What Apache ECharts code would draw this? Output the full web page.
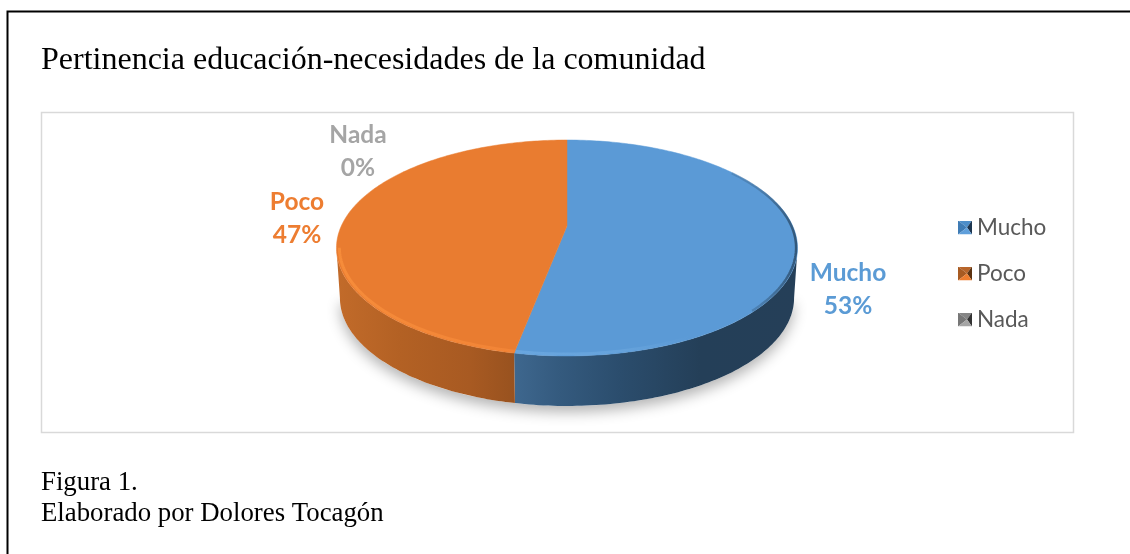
<!DOCTYPE html>
<html><head><meta charset="utf-8">
<style>html,body{margin:0;padding:0;background:#fff}#c{width:1130px;height:554px}</style>
<script src="https://cdn.jsdelivr.net/npm/echarts@6/dist/echarts.min.js"></script>
</head><body><div id="c"></div>
<script>
const categories = ['Mucho', 'Poco', 'Nada'];
const values = [53, 47, 0];
const colors = ['#5b9bd5', '#ed7d31', '#a5a5a5'];
const topFills = ['#5b9ad6', '#e97c30', '#a5a5a5'];
const chartTitle = 'Pertinencia educación-necesidades de la comunidad';
const captionLines = ['Figura 1.', 'Elaborado por Dolores Tocagón'];

// disc layout
const cx = 567, cyCentre = 226, halfW = 225.7, halfH = 103.5, persp = 0.2037, depth = 50, baseScale = 0.985;
const labelCentres = [[848, 290], [297, 219], [358, 152]];
const total = values.reduce((a, b) => a + b, 0);
const rad = d => d * Math.PI / 180;
function pt(deg, r = 1) {
  const X = Math.sin(rad(deg)) * r, Y = -Math.cos(rad(deg)) * r, w = 1 - persp * Y;
  return [cx + halfW * X / w, cyCentre + halfH * Y / w];
}
const sideStart = 101.8, sideEnd = 258.2;
function arc(a, b, r) {
  const out = [], n = Math.max(2, Math.ceil(Math.abs(b - a)));
  for (let i = 0; i <= n; i++) out.push(pt(a + (b - a) * i / n, r));
  return out;
}
const base = p => [cx + (p[0] - cx) * baseScale, p[1] + depth];
const gx = stops => ({ type: 'linear', x: 336, y: 0, x2: 797, y2: 0, global: true,
  colorStops: stops.map(s => ({ offset: (s[0] - 336) / 461, color: s[1] })) });
const wallFills = [
  gx([[515, '#3e678e'], [560, '#345a7e'], [620, '#2b4d6d'], [700, '#243f58'], [797, '#253f58']]),
  gx([[336, '#c26b2a'], [400, '#b36124'], [470, '#a85a22'], [515, '#98521f']]),
  '#7c7c7c'
];
const rimStrokes = [
  gx([[515, '#69a6df'], [620, '#66a3dc'], [690, '#5b9ad6'], [797, '#5b9ad6']]),
  gx([[336, '#f68c3a'], [515, '#f28436']]),
  '#a5a5a5'
];
const edgeShade = gx([[690, 'rgba(36,64,90,0)'], [760, 'rgba(36,64,90,0.3)'], [797, 'rgba(36,64,90,0.75)']]);

function startOf(i) { return values.slice(0, i).reduce((a, b) => a + b, 0) / total * 360; }

function renderSlice(params) {
  const i = params.seriesIndex - 1, a = startOf(i), b = startOf(i + 1);
  const kids = [];
  const from = Math.max(a, sideStart), to = Math.min(b, sideEnd);
  if (to > from) {
    const top = arc(from, to, 1);
    kids.push({ type: 'polygon', shape: { points: top.concat(top.map(base).reverse()) },
      style: { fill: wallFills[i], stroke: null } });
  }
  if (b > a) {
    kids.push({ type: 'polygon', shape: { points: [[cx, cyCentre]].concat(arc(a, b, 1)) },
      style: { fill: topFills[i], stroke: topFills[i], lineWidth: 0.5 } });
    if (to > from) {
      kids.push({ type: 'polyline', shape: { points: arc(from, to, 0.988) },
        style: { fill: null, stroke: rimStrokes[i], lineWidth: 3 } });
    }
    if (i === 0) {
      kids.push({ type: 'polyline', shape: { points: arc(55, 135, 0.994) },
        style: { fill: null, stroke: edgeShade, lineWidth: 2.5 } });
    }
  }
  kids.push({ type: 'text', z2: 10, style: {
    text: categories[i] + '\n' + Math.round(values[i] / total * 100) + '%',
    x: labelCentres[i][0], y: labelCentres[i][1], align: 'center', verticalAlign: 'middle',
    font: 'bold 24.5px Lato', lineHeight: 33, fill: colors[i] } });
  return { type: 'group', children: kids };
}
function renderShadow() {
  const top = arc(sideStart, sideEnd, 1).map(base);
  return { type: 'polygon', shape: { points: top },
    style: { fill: '#ffffff', shadowBlur: 14, shadowColor: 'rgba(0,0,0,0.3)', shadowOffsetY: 6 } };
}
function pyramid(c) {
  const [t, l, r, b] = c;
  const svg = `<svg xmlns="http://www.w3.org/2000/svg" width="14" height="14" viewBox="0 0 14 14">` +
    `<polygon points="0,0 14,0 9,7" fill="${t}"/><polygon points="0,0 0,14 9,7" fill="${l}"/>` +
    `<polygon points="14,0 14,14 9,7" fill="${r}"/><polygon points="0,14 14,14 9,7" fill="${b}"/></svg>`;
  return 'image://data:image/svg+xml;charset=utf-8,' + encodeURIComponent(svg);
}
const legendBevels = [
  ['#4d8ec9', '#3f7cb5', '#1d3650', '#5f9fdb'],
  ['#b8652a', '#a85b22', '#5c3210', '#ee7e30'],
  ['#858585', '#777777', '#333333', '#a5a5a5']
];

const chart = echarts.init(document.getElementById('c'), null, { renderer: 'canvas' });
chart.setOption({
  animation: false,
  backgroundColor: '#ffffff',
  title: [
    { text: chartTitle, left: 41, top: 45, padding: 0,
      textStyle: { fontFamily: 'Liberation Serif', fontWeight: 'normal', fontSize: 32, color: '#000000' } },
    { text: captionLines.join('\n'), left: 41, top: 467, padding: 0,
      textStyle: { fontFamily: 'Liberation Serif', fontWeight: 'normal', fontSize: 26.8, lineHeight: 31, color: '#000000' } }
  ],
  legend: {
    orient: 'vertical', left: 958, top: 216, itemWidth: 14, itemHeight: 14, itemGap: 23, padding: 0,
    selectedMode: false,
    data: categories.map((n, i) => ({ name: n, icon: pyramid(legendBevels[i]) })),
    textStyle: { fontFamily: 'Lato', fontSize: 22.5, color: '#595959', padding: [0, 0, 0, 0] }
  },
  graphic: [
    { type: 'rect', shape: { x: 41.5, y: 112.5, width: 1032, height: 320 }, z: -1,
      style: { fill: '#fff', stroke: '#d9d9d9', lineWidth: 1.5 } },
    { type: 'polyline', shape: { points: [[7.5, 554], [7.5, 11.5], [1130, 11.5]] }, z: -1,
      style: { fill: null, stroke: '#000000', lineWidth: 2 } }
  ],
  series: [
    { type: 'custom', name: 'base', coordinateSystem: 'none', silent: true, z: 1, data: [total], renderItem: renderShadow },
    ...categories.map((n, i) => ({
      type: 'custom', name: n, coordinateSystem: 'none', silent: true, z: 2,
      itemStyle: { color: colors[i] }, data: [{ name: n, value: values[i] }], renderItem: renderSlice
    }))
  ]
});
</script></body></html>
